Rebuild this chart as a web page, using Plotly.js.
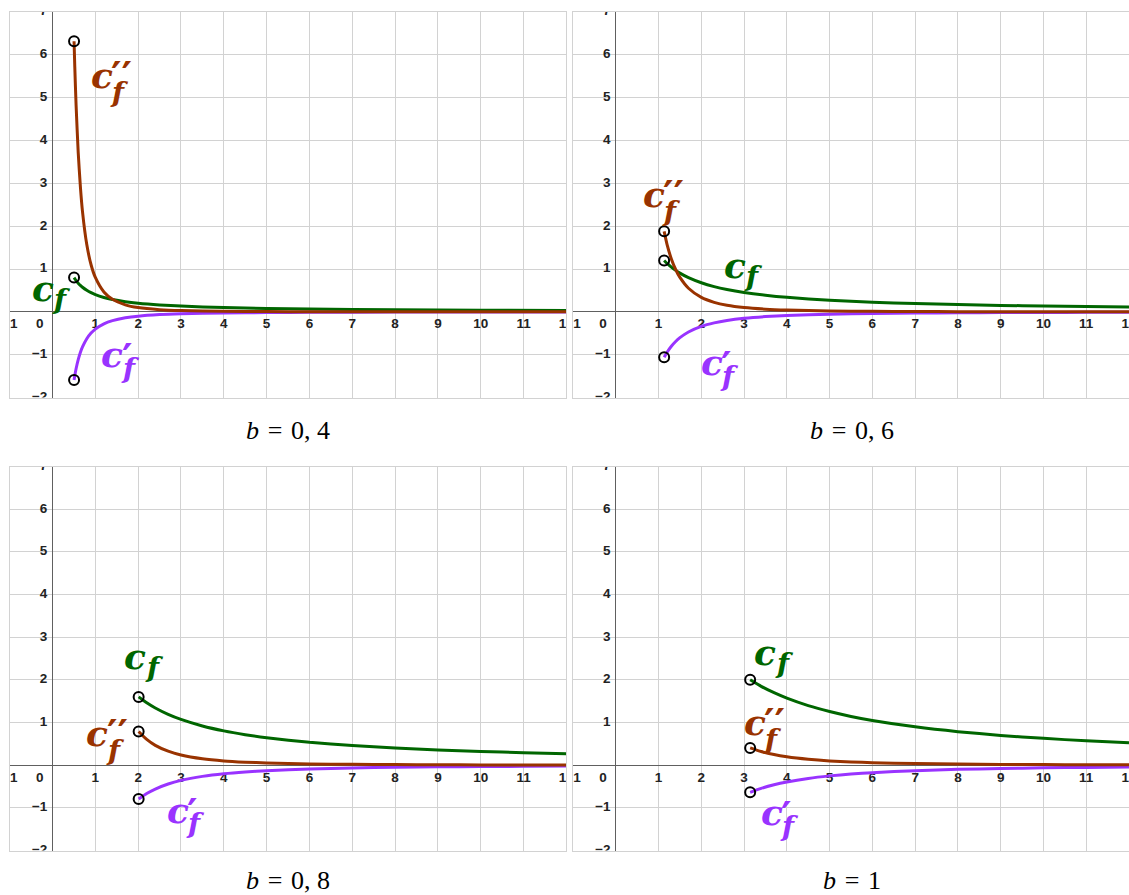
<!DOCTYPE html>
<html>
<head>
<meta charset="utf-8">
<script src="https://cdn.plot.ly/plotly-3.0.1.min.js"></script>
<style>
html,body{margin:0;padding:0;background:#fff;}
#chart{width:1129px;height:895px;}
</style>
</head>
<body>
<div id="chart"></div>
<script>
// ---------- data ----------
const xTickVals = [-1, 1, 2, 3, 4, 5, 6, 7, 8, 9, 10, 11, 12];
const xTickText = ['−1', '1', '2', '3', '4', '5', '6', '7', '8', '9', '10', '11', '12'];
const yTickVals = [-2, -1, 1, 2, 3, 4, 5, 6, 7];
const yTickText = ['−2', '−1', '1', '2', '3', '4', '5', '6', '7'];
const originText = '0';

const bValues = ['0,4', '0,6', '0,8', '1'];

// b = 0,4
const b04_x   = [0.503, 0.52, 0.55, 0.6, 0.65, 0.7, 0.8, 0.9, 1.0, 1.2, 1.4, 1.7, 2, 2.5, 3, 4, 5, 6, 8, 10, 12];
const b04_cf  = [0.80, 0.773, 0.731, 0.670, 0.618, 0.574, 0.503, 0.447, 0.402, 0.335, 0.287, 0.236, 0.201, 0.161, 0.134, 0.100, 0.080, 0.067, 0.050, 0.040, 0.034];
const b04_cf1 = [-1.59, -1.487, -1.329, -1.117, -0.951, -0.820, -0.628, -0.496, -0.402, -0.279, -0.205, -0.139, -0.100, -0.064, -0.045, -0.025, -0.016, -0.011, -0.006, -0.004, -0.003];
const b04_cf2 = [6.32, 5.72, 4.83, 3.72, 2.93, 2.34, 1.57, 1.10, 0.804, 0.465, 0.293, 0.164, 0.100, 0.052, 0.030, 0.013, 0.006, 0.004, 0.002, 0.001, 0.0005];

// b = 0,6
const b06_x   = [1.131, 1.2, 1.3, 1.4, 1.5, 1.7, 2, 2.3, 2.6, 3, 3.5, 4, 5, 6, 7, 8, 9, 10, 11, 12];
const b06_cf  = [1.20, 1.131, 1.044, 0.969, 0.905, 0.798, 0.679, 0.590, 0.522, 0.452, 0.388, 0.339, 0.271, 0.226, 0.194, 0.170, 0.151, 0.136, 0.123, 0.113];
const b06_cf1 = [-1.06, -0.942, -0.803, -0.692, -0.603, -0.470, -0.339, -0.257, -0.201, -0.151, -0.111, -0.085, -0.054, -0.038, -0.028, -0.021, -0.017, -0.014, -0.011, -0.009];
const b06_cf2 = [1.88, 1.571, 1.235, 0.989, 0.804, 0.552, 0.339, 0.223, 0.154, 0.100, 0.063, 0.042, 0.022, 0.013, 0.008, 0.005, 0.004, 0.003, 0.002, 0.0016];

// b = 0,8
const b08_x   = [2.011, 2.2, 2.4, 2.7, 3, 3.5, 4, 4.5, 5, 6, 7, 8, 9, 10, 11, 12];
const b08_cf  = [1.60, 1.462, 1.340, 1.191, 1.072, 0.919, 0.804, 0.715, 0.643, 0.536, 0.460, 0.402, 0.357, 0.322, 0.292, 0.268];
const b08_cf1 = [-0.795, -0.665, -0.559, -0.441, -0.357, -0.263, -0.201, -0.159, -0.129, -0.089, -0.066, -0.050, -0.040, -0.032, -0.027, -0.022];
const b08_cf2 = [0.791, 0.604, 0.465, 0.327, 0.238, 0.150, 0.100, 0.071, 0.052, 0.030, 0.019, 0.013, 0.009, 0.006, 0.005, 0.004];

// b = 1
const b10_x   = [3.142, 3.4, 3.7, 4, 4.5, 5, 5.5, 6, 7, 8, 9, 10, 11, 12];
const b10_cf  = [2.00, 1.848, 1.698, 1.571, 1.396, 1.257, 1.142, 1.047, 0.898, 0.785, 0.698, 0.628, 0.571, 0.524];
const b10_cf1 = [-0.637, -0.544, -0.459, -0.393, -0.310, -0.251, -0.208, -0.175, -0.128, -0.098, -0.078, -0.063, -0.052, -0.044];
const b10_cf2 = [0.405, 0.320, 0.248, 0.196, 0.138, 0.100, 0.076, 0.058, 0.037, 0.025, 0.017, 0.013, 0.009, 0.007];

// ---------- styling / layout ----------
const GREEN = '#006600', BROWN = '#993300', PURPLE = '#9933ff';
const GRID = '#d2d2d2', AXIS = '#606060', TICKC = '#222222';
const W = 1129, H = 895;

const panels = [
  {x: b04_x, cf: b04_cf, cf1: b04_cf1, cf2: b04_cf2, b: bValues[0],
   xd: [9.7, 566.4], yd: [12.1, 397.5], cap: [288, 430],
   lab: {cf: [-0.23, 0.48], cf1: [1.39, -1.06], cf2: [1.15, 5.46]}},
  {x: b06_x, cf: b06_cf, cf1: b06_cf1, cf2: b06_cf2, b: bValues[1],
   xd: [573, 1129], yd: [12.1, 397.5], cap: [852, 430],
   lab: {cf: [2.78, 1.02], cf1: [2.24, -1.25], cf2: [0.89, 2.68]}},
  {x: b08_x, cf: b08_cf, cf1: b08_cf1, cf2: b08_cf2, b: bValues[2],
   xd: [9.7, 566.4], yd: [466.5, 850.5], cap: [288, 880],
   lab: {cf: [1.93, 2.48], cf1: [2.93, -1.12], cf2: [1.04, 0.68]}},
  {x: b10_x, cf: b10_cf, cf1: b10_cf1, cf2: b10_cf2, b: bValues[3],
   xd: [573, 1129], yd: [466.5, 850.5], cap: [852, 880],
   lab: {cf: [3.49, 2.58], cf1: [3.65, -1.17], cf2: [3.25, 0.94]}}
];

const traces = [];
const annotations = [];
const layout = {
  width: W, height: H,
  margin: {l: 0, r: 0, t: 0, b: 0, pad: 0},
  paper_bgcolor: '#ffffff', plot_bgcolor: '#ffffff',
  showlegend: false,
  annotations: annotations
};

const tickFont = {family: 'Liberation Sans, Arial, sans-serif', size: 13.5, color: TICKC, weight: 'bold'};
const labelSerif = 'DejaVu Serif, serif';
const capSerif = 'Liberation Serif, serif';

function labelAnns(xr, yr, pos, primes, color) {
  const [x, y] = pos;
  const base = {xref: xr, yref: yr, x: x, y: y, showarrow: false, xanchor: 'center', yanchor: 'middle'};
  annotations.push(Object.assign({}, base, {text: '<b><i>c</i></b>', yshift: 3,
    font: {family: labelSerif, size: 36, color: color}}));
  const fOff = primes === 0 ? [19, -8] : (primes === 1 ? [18, -11] : [18, -14]);
  annotations.push(Object.assign({}, base, {text: '<b><i>f</i></b>', font: {family: labelSerif, size: 28, color: color},
    xshift: fOff[0], yshift: fOff[1]}));
  if (primes > 0) {
    annotations.push(Object.assign({}, base, {text: '<b>' + '′'.repeat(primes) + '</b>',
      font: {family: labelSerif, size: 40, color: color},
      xshift: primes === 1 ? 15 : 20, yshift: primes === 1 ? 0 : 3}));
  }
}

panels.forEach((p, i) => {
  const n = i + 1;
  const xa = 'xaxis' + (n === 1 ? '' : n), ya = 'yaxis' + (n === 1 ? '' : n);
  const xr = 'x' + (n === 1 ? '' : n), yr = 'y' + (n === 1 ? '' : n);
  const common = {
    dtick: 1, tick0: 0, showgrid: true, gridcolor: GRID, gridwidth: 1,
    zeroline: true, zerolinecolor: AXIS, zerolinewidth: 1,
    showticklabels: false, ticks: '', showline: true, mirror: true,
    linecolor: GRID, linewidth: 1, fixedrange: true
  };
  layout[xa] = Object.assign({}, common, {domain: [p.xd[0] / W, p.xd[1] / W], range: [-1, 12], anchor: yr});
  layout[ya] = Object.assign({}, common, {domain: [1 - p.yd[1] / H, 1 - p.yd[0] / H], range: [-2, 7], anchor: xr});

  // tick labels (clipped by the plot area like the original)
  traces.push({type: 'scatter', mode: 'text', xaxis: xr, yaxis: yr, hoverinfo: 'skip',
    x: xTickVals, y: xTickVals.map(() => -0.31), text: xTickText,
    textposition: 'middle center', textfont: tickFont, cliponaxis: true});
  traces.push({type: 'scatter', mode: 'text', xaxis: xr, yaxis: yr, hoverinfo: 'skip',
    x: yTickVals.map(() => -0.12), y: yTickVals, text: yTickText,
    textposition: 'middle left', textfont: tickFont, cliponaxis: true});
  traces.push({type: 'scatter', mode: 'text', xaxis: xr, yaxis: yr, hoverinfo: 'skip',
    x: [-0.3], y: [-0.31], text: [originText],
    textposition: 'middle center', textfont: tickFont, cliponaxis: true});

  // curves
  const line = (c) => ({color: c, width: 3, shape: 'spline', smoothing: 0.6});
  traces.push({type: 'scatter', mode: 'lines', xaxis: xr, yaxis: yr, x: p.x, y: p.cf1, line: line(PURPLE), hoverinfo: 'skip', cliponaxis: true});
  traces.push({type: 'scatter', mode: 'lines', xaxis: xr, yaxis: yr, x: p.x, y: p.cf, line: line(GREEN), hoverinfo: 'skip', cliponaxis: true});
  traces.push({type: 'scatter', mode: 'lines', xaxis: xr, yaxis: yr, x: p.x, y: p.cf2, line: line(BROWN), hoverinfo: 'skip', cliponaxis: true});

  // open end points
  traces.push({type: 'scatter', mode: 'markers', xaxis: xr, yaxis: yr, hoverinfo: 'skip', cliponaxis: false,
    x: [p.x[0], p.x[0], p.x[0]], y: [p.cf[0], p.cf1[0], p.cf2[0]],
    marker: {symbol: 'circle-open', size: 10, color: '#000', line: {width: 2, color: '#000'}}});

  // curve labels
  labelAnns(xr, yr, p.lab.cf, 0, GREEN);
  labelAnns(xr, yr, p.lab.cf1, 1, PURPLE);
  labelAnns(xr, yr, p.lab.cf2, 2, BROWN);

  // caption
  annotations.push({xref: 'paper', yref: 'paper', x: p.cap[0] / W, y: 1 - p.cap[1] / H,
    xanchor: 'center', yanchor: 'middle', showarrow: false,
    text: '<i>b</i>\u2004=\u2004' + p.b.replace(',', ',\u2005'),
    font: {family: capSerif, size: 26, color: '#000'}});
});

Plotly.newPlot('chart', traces, layout, {displayModeBar: false, staticPlot: true});
</script>
</body>
</html>
